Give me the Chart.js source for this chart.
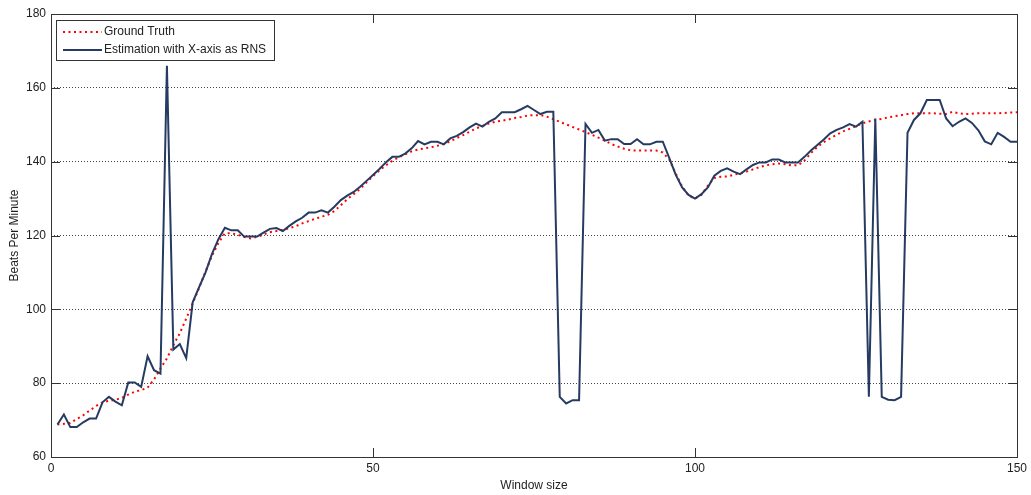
<!DOCTYPE html>
<html>
<head>
<meta charset="utf-8">
<script src="https://cdn.jsdelivr.net/npm/chart.js@4.4.1/dist/chart.umd.min.js"></script>
<style>
  html, body { margin: 0; padding: 0; background: #fff; }
</style>
</head>
<body>
<canvas id="graf" width="1031" height="495"></canvas>
<script>
// Heart rate per window, windows 1..150
const groundTruth = [
  68.8, 69.0, 69.2, 70.3, 71.3, 72.6, 73.8, 74.8, 75.2, 75.5,
  76.0, 76.9, 77.7, 78.1, 78.8, 81.0, 84.0, 86.7, 90.3, 93.5,
  97.5, 101.6, 105.8, 110.3, 114.5, 118.0, 120.6, 120.6, 120.2, 119.6,
  119.2, 119.6, 120.3, 120.9, 121.2, 121.5, 122.0, 122.5, 123.3, 123.9,
  124.5, 125.1, 125.6, 126.6, 128.2, 129.8, 131.2, 132.6, 134.4, 136.1,
  137.6, 139.0, 140.2, 141.2, 142.0, 142.8, 143.3, 143.6, 143.9, 144.3,
  144.8, 145.5, 146.4, 147.2, 148.1, 149.0, 149.7, 150.3, 150.8, 151.1,
  151.4, 151.8, 152.1, 152.5, 152.6, 152.6, 152.2, 151.5, 150.8, 150.1,
  149.4, 148.7, 148.0, 147.3, 146.5, 145.7, 144.8, 144.1, 143.5, 143.1,
  143.0, 143.0, 143.0, 143.0, 142.5, 140.6, 136.8, 133.3, 130.8, 130.0,
  131.0, 133.5, 135.6, 135.9, 136.0, 136.4, 136.9, 137.3, 137.9, 138.5,
  139.0, 139.3, 139.5, 139.3, 139.0, 139.0, 140.3, 142.3, 144.0, 145.3,
  146.3, 147.3, 148.2, 148.9, 149.6, 150.4, 150.9, 151.3, 151.6, 152.0,
  152.3, 152.6, 152.9, 153.1, 153.1, 153.1, 153.1, 153.0, 152.9, 153.5,
  153.1, 152.9, 153.0, 153.1, 153.1, 153.1, 153.1, 153.2, 153.3, 153.4
]

const estimation = [
  68.8, 71.5, 68.1, 68.1, 69.4, 70.4, 70.4, 74.8, 76.3, 75.0,
  74.0, 80.2, 80.2, 79.0, 87.3, 83.5, 82.6, 166.0, 89.1, 90.6,
  86.8, 101.9, 106.0, 110.0, 115.0, 119.0, 122.1, 121.4, 121.4, 119.7,
  119.7, 119.7, 120.8, 121.8, 122.0, 121.2, 122.6, 123.8, 124.8, 126.2,
  126.2, 126.8, 126.2, 127.8, 129.6, 130.8, 131.8, 133.2, 134.8, 136.4,
  138.0, 139.8, 141.3, 141.3, 142.2, 143.6, 145.6, 144.7, 145.4, 145.4,
  144.7, 146.3, 147.0, 148.0, 149.3, 150.3, 149.5, 150.8, 151.7, 153.4,
  153.4, 153.4, 154.2, 155.1, 154.0, 152.9, 153.5, 153.5, 76.3, 74.5,
  75.4, 75.4, 150.2, 147.8, 148.6, 145.7, 146.1, 146.1, 144.8, 144.8,
  146.1, 144.7, 144.7, 145.4, 145.4, 141.0, 136.5, 133.0, 131.0, 130.0,
  131.2, 133.0, 136.2, 137.5, 138.2, 137.3, 136.6, 137.9, 139.1, 139.8,
  139.8, 140.6, 140.6, 139.8, 139.8, 139.8, 141.3, 143.0, 144.5, 146.0,
  147.7, 148.6, 149.3, 150.2, 149.5, 150.8, 76.3, 151.7, 76.3, 75.5,
  75.4, 76.3, 147.8, 151.3, 153.1, 156.7, 156.7, 156.7, 151.7, 149.6,
  150.8, 151.7, 150.5, 148.5, 145.5, 144.7, 147.8, 146.7, 145.4, 145.4
]

const seriesNames = ['Ground Truth', 'Estimation with X-axis as RNS']
const xTicks = [0, 50, 100, 150]
const yTicks = [60, 80, 100, 120, 140, 160, 180]

const FONT = '"Liberation Sans", Arial, sans-serif'
const TEXT = '#222222'
const TICK_LEN = 9

function points(arr){
  return arr.map((v, i) => ({x: i + 1, y: v}))
}

// box round the axes, inward tick marks and the legend in the upper left corner
const matlabAxes = {
  id: 'matlabAxes',
  afterDraw(chart){
    const ctx = chart.ctx
    const a = chart.chartArea
    const xs = chart.scales.x
    const ys = chart.scales.y
    ctx.save()
    ctx.strokeStyle = '#333333'
    ctx.lineWidth = 1
    ctx.beginPath()
    xTicks.forEach(t => {
      const px = Math.round(xs.getPixelForValue(t)) + 0.5
      ctx.moveTo(px, a.bottom); ctx.lineTo(px, a.bottom - TICK_LEN)
      ctx.moveTo(px, a.top); ctx.lineTo(px, a.top + TICK_LEN)
    })
    yTicks.forEach(t => {
      const py = Math.round(ys.getPixelForValue(t)) + 0.5
      ctx.moveTo(a.left, py); ctx.lineTo(a.left + TICK_LEN, py)
      ctx.moveTo(a.right, py); ctx.lineTo(a.right - TICK_LEN, py)
    })
    ctx.stroke()
    ctx.strokeRect(Math.round(a.left) + 0.5, Math.round(a.top) + 0.5,
      Math.round(a.right - a.left), Math.round(a.bottom - a.top))

    // legend
    const bx = 56.5, by = 20.5, bw = 218, bh = 40
    ctx.fillStyle = '#ffffff'
    ctx.fillRect(bx, by, bw, bh)
    ctx.strokeStyle = '#333333'
    ctx.strokeRect(bx, by, bw, bh)
    ctx.font = '12px ' + FONT
    ctx.textBaseline = 'middle'
    ctx.textAlign = 'left'
    chart.data.datasets.forEach((ds, i) => {
      const ly = Math.round(by + 11 + i * 18)
      ctx.save()
      ctx.strokeStyle = ds.borderColor
      ctx.lineWidth = ds.borderWidth
      ctx.setLineDash(ds.borderDash || [])
      ctx.beginPath()
      ctx.moveTo(63, ly); ctx.lineTo(102, ly)
      ctx.stroke()
      ctx.restore()
      ctx.fillStyle = TEXT
      ctx.fillText(ds.label, 104, ly)
    })
    ctx.restore()
  }
}

const ctx = document.getElementById('graf')
Chart.defaults.font.family = FONT
Chart.defaults.font.size = 12
Chart.defaults.color = TEXT

new Chart(ctx, {
  type: 'line',
  data: {
    datasets: [{
      label: seriesNames[0],
      data: points(groundTruth),
      borderColor: '#ff0000',
      borderWidth: 2,
      borderDash: [2, 3.5],
      pointRadius: 0,
      tension: 0,
      order: 2
    }, {
      label: seriesNames[1],
      data: points(estimation),
      borderColor: '#263b61',
      borderWidth: 2,
      pointRadius: 0,
      tension: 0,
      order: 1
    }]
  },
  options: {
    responsive: false,
    animation: false,
    layout: { padding: { top: 14, right: 14, left: 0, bottom: 0 } },
    scales: {
      x: {
        type: 'linear',
        min: 0,
        max: 150,
        afterBuildTicks: s => { s.ticks = xTicks.map(v => ({value: v})) },
        afterFit: s => { s.height = 38 },
        ticks: { padding: 4, maxRotation: 0, color: TEXT },
        grid: { display: false, drawTicks: false },
        border: { display: false },
        title: { display: true, text: 'Window size', padding: { top: 2, bottom: 2 }, color: TEXT }
      },
      y: {
        type: 'linear',
        min: 60,
        max: 180,
        afterBuildTicks: s => { s.ticks = yTicks.map(v => ({value: v})) },
        afterFit: s => { s.width = 51 },
        ticks: { padding: 5, color: TEXT },
        grid: {
          drawTicks: false,
          lineWidth: 1,
          color: c => (c.tick && (c.tick.value === 60 || c.tick.value === 180)) ? 'rgba(0,0,0,0)' : '#444444'
        },
        border: { display: false, dash: [1, 2] },
        title: { display: true, text: 'Beats Per Minute', padding: { top: 7, bottom: 0 }, color: TEXT }
      }
    },
    plugins: {
      legend: { display: false },
      tooltip: { enabled: false }
    }
  },
  plugins: [matlabAxes]
})
</script>
</body>
</html>
